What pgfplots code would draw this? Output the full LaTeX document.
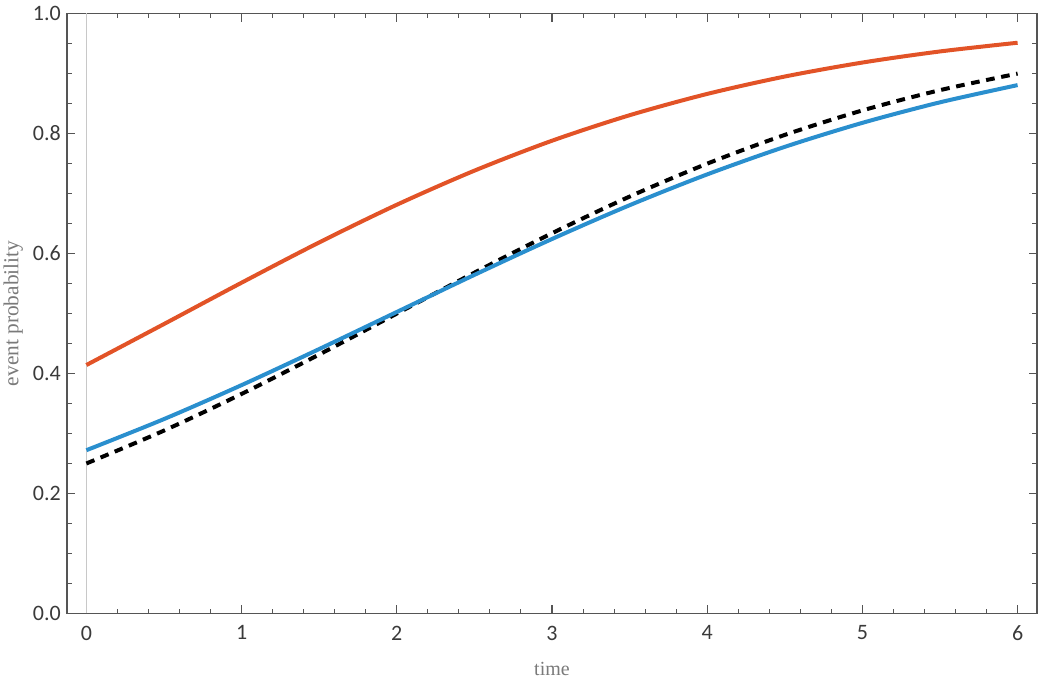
\documentclass[border=0pt]{standalone}
\usepackage{pgfplots}
\pgfplotsset{compat=1.18}
\usepackage{fontspec}
\setmainfont{Carlito}
\newfontfamily\labelfont{Liberation Serif}
\definecolor{cOrange}{HTML}{E25327}
\definecolor{cBlue}{HTML}{2A8FCE}
\definecolor{cFrame}{HTML}{555555}
\definecolor{cTick}{HTML}{3A3A3A}
\definecolor{cLabel}{HTML}{7A7A7A}
\definecolor{cZero}{HTML}{C8C8C8}
\begin{document}
\begin{tikzpicture}
\useasboundingbox (-50.25pt,-52.3pt) rectangle (729.75pt,460.1pt);
\begin{axis}[
  at={(0,0)}, anchor=south west,
  scale only axis,
  width=727.5pt, height=450pt,
  xmin=-0.125, xmax=6.125,
  ymin=0, ymax=1,
  xtick={0,1,2,3,4,5,6},
  ytick={0,0.2,0.4,0.6,0.8,1.0},
  minor x tick num=4,
  minor y tick num=3,
  tick align=inside,
  major tick length=6.2pt,
  minor tick length=3.5pt,
  axis line style={cFrame, line width=0.8pt},
  every tick/.style={cFrame, line width=0.8pt},
  /pgf/number format/assume math mode=true,
  yticklabel style={/pgf/number format/fixed, /pgf/number format/fixed zerofill, /pgf/number format/precision=1, inner sep=0pt, xshift=-4.5pt},
  ticklabel style={font=\fontsize{16.5}{18}\selectfont, text=cTick},
  xticklabel style={inner sep=0pt, yshift=-9pt},
  extra x ticks={0},
  extra x tick labels={},
  extra x tick style={grid=major, major grid style={cZero, line width=0.75pt}, major tick length=0pt},
  xlabel={time},
  ylabel={event probability},
  label style={text=cLabel, inner sep=0pt},
  xlabel style={font=\labelfont\fontsize{15}{17}\selectfont, at={(axis description cs:0.5,-0.1029)}, anchor=base},
  ylabel style={font=\labelfont\fontsize{16}{18}\selectfont, at={(axis description cs:-0.0502,0.5)}, anchor=base},
  clip=true,
]
\addplot[black, line width=3pt, dash pattern=on 6.5pt off 5pt, smooth] coordinates {
(0,0.2500) (0.5,0.3048) (1,0.3659) (1.5,0.4316) (2,0.4998) (2.5,0.5680) (3,0.6337)
(3.5,0.6948) (4,0.7497) (4.5,0.7976) (5,0.8384) (5.5,0.8722) (6,0.8998)};
\addplot[cBlue, line width=3pt, smooth] coordinates {
(0,0.2721) (0.5,0.3240) (1,0.3806) (1.5,0.4407) (2,0.5025) (2.5,0.5643) (3,0.6241)
(3.5,0.6804) (4,0.7318) (4.5,0.7777) (5,0.8177) (5.5,0.8519) (6,0.8806)};
\addplot[cOrange, line width=3pt, smooth] coordinates {
(0,0.4141) (0.5,0.4824) (1,0.5513) (1.5,0.6184) (2,0.6812) (2.5,0.7380) (3,0.7879)
(3.5,0.8304) (4,0.8659) (4.5,0.8949) (5,0.9182) (5.5,0.9367) (6,0.9512)};
\end{axis}
\end{tikzpicture}
\end{document}
